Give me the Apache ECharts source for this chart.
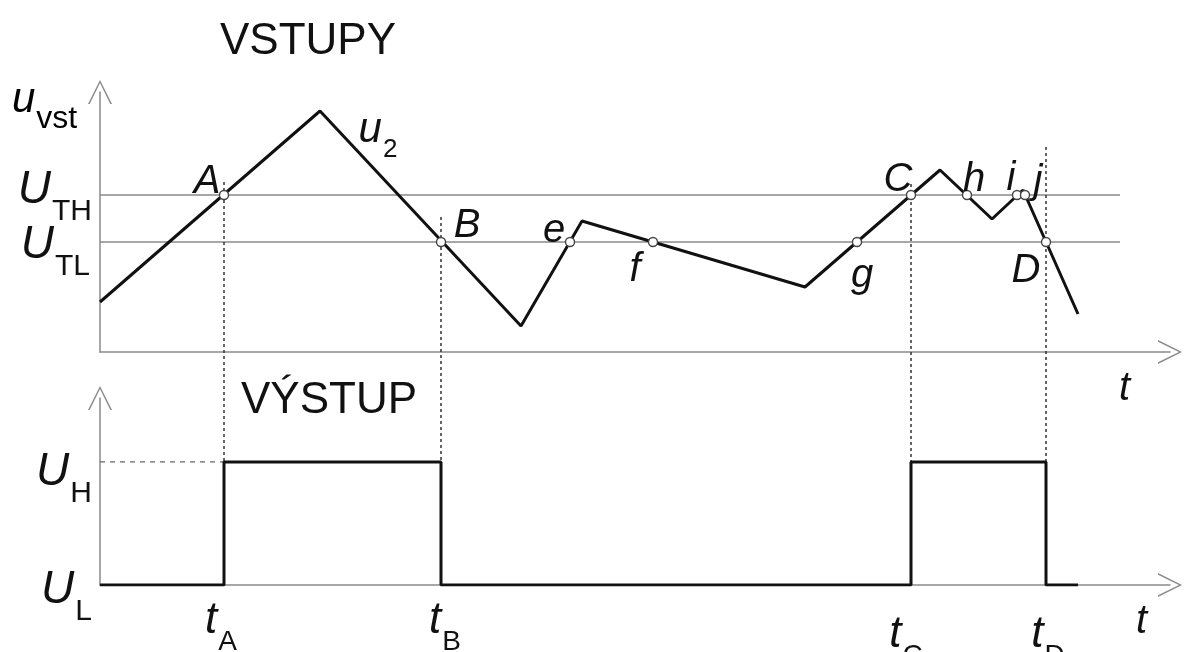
<!DOCTYPE html>
<html>
<head>
<meta charset="utf-8">
<script src="https://cdn.jsdelivr.net/npm/echarts@6/dist/echarts.min.js"></script>
<style>
  html, body { margin: 0; padding: 0; background: #fff; }
  #chart { width: 1186px; height: 652px; }
</style>
</head>
<body>
<div id="chart"></div>
<script>
// vstupni napeti u2 - zlomove body
var inputT = [0, 22.0, 42.1, 48.2, 70.5, 84.0, 89.2, 92.3, 97.8];
var inputU = [5.0, 24.1, 2.6, 13.1, 6.5, 18.2, 13.3, 16.2, 3.8];

// prahove urovne
var U_TH = 15.7;
var U_TL = 11.0;
var thresholdEnd = 102;

// pruseciky s prahy
var crossNames = ['A', 'B', 'e', 'f', 'g', 'C', 'h', 'i', 'j', 'D'];
var crossT = [12.4, 34.1, 47.0, 55.3, 75.7, 81.1, 86.7, 91.7, 92.5, 94.6];
var crossU = [15.7, 11.0, 11.0, 11.0, 11.0, 15.7, 15.7, 15.7, 15.7, 11.0];

// okamziky preklopeni a vystup
var switchNames = ['A', 'B', 'C', 'D'];
var switchT = [12.4, 34.1, 81.1, 94.6];
var guideTop = [17.0, 13.5, 16.8, 20.5];
var outT = [0, 12.4, 12.4, 34.1, 34.1, 81.1, 81.1, 94.6, 94.6, 97.8];
var outU = [0, 0, 1, 1, 0, 0, 1, 1, 0, 0];
var U_H = 1;
var U_L = 0;

var FONT = '"Liberation Sans", Arial, Helvetica, sans-serif';
var INK = '#111';
var AXIS = '#8a8a8a';
// otevrena sipka
var CHEVRON = 'path://M0,20 L10,0 L20,20 L18.6,20 L10,2.6 L1.4,20 Z';

// popisky bodu - posuny (px)
var crossLabelOffset = [[-17, -13], [26, -16], [-16, -11], [-18, 28], [5, 34],
                        [-13, -15], [7, -15], [-6, -16], [13, -13], [-20, 29]];
var switchLabelOffset = [[-3, 37], [4, 37], [-5, 51], [2, 51]];

// znak s dolnim indexem: hlavni znak + posunuty index
function subRich(main, sub, pad) {
  return {
    i: { fontFamily: FONT, fontStyle: 'italic', fontSize: main, lineHeight: main + 2, verticalAlign: 'top', color: INK },
    s: { fontFamily: FONT, fontSize: sub, lineHeight: sub, padding: [pad, 0, 0, 1], verticalAlign: 'top', color: INK }
  };
}
var richU = subRich(46, 30, 30);
var richT = subRich(44, 28, 29);
var richSmall = subRich(42, 26, 28);
var richVst = subRich(42, 32, 24);

function zip(a, b) {
  return a.map(function (v, k) { return [v, b[k]]; });
}

function axisPair(grid, yMax) {
  var line = { show: true, symbol: ['none', CHEVRON], symbolSize: [24, 30], lineStyle: { color: AXIS, width: 1.5 } };
  return {
    x: { gridIndex: grid, type: 'value', min: 0, max: 107.0, axisLine: line, axisTick: { show: false }, axisLabel: { show: false }, splitLine: { show: false } },
    y: { gridIndex: grid, type: 'value', min: 0, max: yMax, axisLine: line, axisTick: { show: false }, axisLabel: { show: false }, splitLine: { show: false } }
  };
}

var upperAxes = axisPair(0, 26.0);
var lowerAxes = axisPair(1, 1.520);

var chart = echarts.init(document.getElementById('chart'));

var option = {
  animation: false,
  backgroundColor: '#fff',
  grid: [
    { left: 100, top: 92, width: 1070, height: 260 },
    { left: 100, top: 398, width: 1070, height: 187 }
  ],
  xAxis: [upperAxes.x, lowerAxes.x],
  yAxis: [upperAxes.y, lowerAxes.y],
  graphic: [
    { type: 'text', left: 220, top: 20, style: { text: 'VSTUPY', font: '44px ' + FONT, fill: INK } },
    { type: 'text', left: 241, top: 379, style: { text: 'VÝSTUP', font: '44px ' + FONT, fill: INK } },
    { type: 'text', left: 12, top: 79, style: { text: '{i|u}{s|vst}', rich: richVst } },
    { type: 'text', left: 1119, top: 369, style: { text: 't', font: 'italic 40px ' + FONT, fill: INK } },
    { type: 'text', left: 1136, top: 602, style: { text: 't', font: 'italic 40px ' + FONT, fill: INK } }
  ],
  series: []
};

// prahove primky
[U_TH, U_TL].forEach(function (u) {
  option.series.push({
    type: 'line', xAxisIndex: 0, yAxisIndex: 0, symbol: 'none', silent: true,
    lineStyle: { color: AXIS, width: 1.5 }, data: [[0, u], [thresholdEnd, u]], z: 2
  });
});

// popisky prahu a urovni
option.series.push({
  type: 'scatter', xAxisIndex: 0, yAxisIndex: 0, symbolSize: 0, silent: true,
  itemStyle: { opacity: 1 },
  data: [
    { value: [0, U_TH], label: { formatter: '{i|U}{s|TH}', offset: [0, -4] } },
    { value: [0, U_TL], label: { formatter: '{i|U}{s|TL}', offset: [-2, 4] } }
  ],
  label: { show: true, position: 'left', distance: 8, rich: richU }
});
option.series.push({
  type: 'scatter', xAxisIndex: 1, yAxisIndex: 1, symbolSize: 0, silent: true,
  itemStyle: { opacity: 1 },
  data: [
    { value: [0, U_H], label: { formatter: '{i|U}{s|H}', offset: [0, 11] } },
    { value: [0, U_L], label: { formatter: '{i|U}{s|L}', offset: [0, 6] } }
  ],
  label: { show: true, position: 'left', distance: 8, rich: richU }
});

// vstupni signal
option.series.push({
  type: 'line', xAxisIndex: 0, yAxisIndex: 0, symbol: 'none', silent: true, z: 4,
  lineStyle: { color: INK, width: 3 }, data: zip(inputT, inputU),
  markPoint: {
    symbolSize: 0, silent: true,
    data: [{ coord: [inputT[1], inputU[1]], label: { show: true, formatter: '{i|u}{s|2}', rich: richSmall, offset: [58, 20] } }]
  }
});

// pruseciky
option.series.push({
  type: 'scatter', xAxisIndex: 0, yAxisIndex: 0, silent: true, z: 6,
  symbol: 'circle', symbolSize: 9,
  itemStyle: { color: '#fff', borderColor: '#444', borderWidth: 1.4, opacity: 1 },
  data: crossNames.map(function (n, k) {
    return { name: n, value: [crossT[k], crossU[k]], label: { offset: crossLabelOffset[k] } };
  }),
  label: {
    show: true, position: 'inside', formatter: '{b}',
    fontFamily: FONT, fontStyle: 'italic', fontSize: 40, color: INK
  }
});

// UH carkovane
option.series.push({
  type: 'line', xAxisIndex: 1, yAxisIndex: 1, symbol: 'none', silent: true,
  lineStyle: { color: '#666', width: 1.3, type: [5, 5] }, data: [[0, U_H], [switchT[0], U_H]]
});

// vystup
option.series.push({
  type: 'line', xAxisIndex: 1, yAxisIndex: 1, symbol: 'none', silent: true, z: 4,
  lineStyle: { color: INK, width: 3 }, data: zip(outT, outU)
});

// popisky tA..tD
option.series.push({
  type: 'scatter', xAxisIndex: 1, yAxisIndex: 1, symbolSize: 0, silent: true,
  itemStyle: { opacity: 1 },
  data: switchNames.map(function (n, k) {
    return { value: [switchT[k], U_L], label: { formatter: '{i|t}{s|' + n + '}', offset: switchLabelOffset[k] } };
  }),
  label: { show: true, position: 'inside', rich: richT }
});

chart.setOption(option);

// svisle vodici cary az na uroven UH ve spodnim grafu
var px = chart.convertToPixel({ gridIndex: 1 }, [0, U_H]);
var lowU = chart.convertFromPixel({ gridIndex: 0 }, px)[1];
var guides = switchT.map(function (t, k) {
  return {
    type: 'line', xAxisIndex: 0, yAxisIndex: 0, symbol: 'none', silent: true, clip: false, z: 3,
    lineStyle: { color: '#333', width: 1.5, type: [3, 3] },
    data: [[t, guideTop[k]], [t, lowU]]
  };
});
chart.setOption({ series: option.series.concat(guides) });
</script>
</body>
</html>
